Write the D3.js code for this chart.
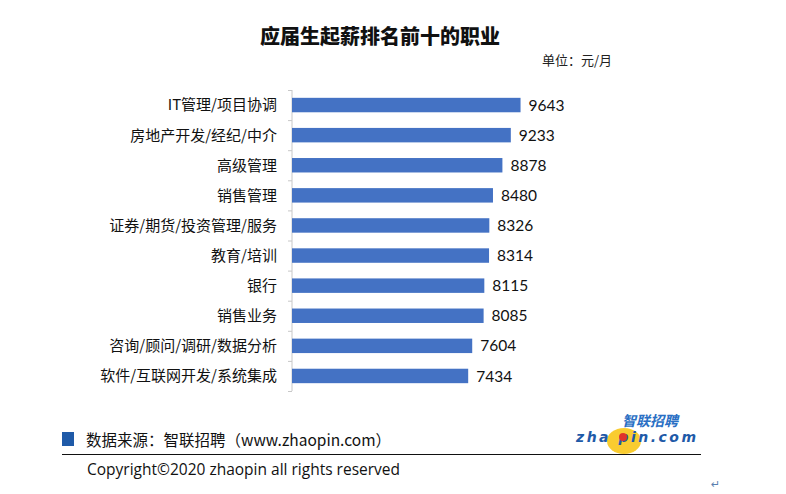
<!DOCTYPE html>
<html><head><meta charset="utf-8">
<script src="https://cdn.jsdelivr.net/npm/d3@7"></script>
<style>body{margin:0;background:#fff}svg{display:block}</style>
</head><body>
<svg id="c" width="786" height="494"></svg>
<script>
const categories = ["IT管理/项目协调","房地产开发/经纪/中介","高级管理","销售管理","证券/期货/投资管理/服务","教育/培训","银行","销售业务","咨询/顾问/调研/数据分析","软件/互联网开发/系统集成"];
const values = [9643,9233,8878,8480,8326,8314,8115,8085,7604,7434];
const title = "应届生起薪排名前十的职业";
const unit = "单位：元/月";
const source = "数据来源：智联招聘（www.zhaopin.com）";
const copyright = "Copyright©2020 zhaopin all rights reserved";

const svg = d3.select("#c");
const cjk = "'Noto Sans CJK SC','Noto Sans',sans-serif";
const x = d3.scaleLinear().domain([0, 10000]).range([292, 529]);
const y = d3.scaleBand().domain(categories).range([90, 391]).paddingInner(0.52).paddingOuter(0.26);

svg.append("text").attr("x", 380).attr("y", 44).attr("text-anchor","middle")
  .attr("font-family", cjk).attr("font-weight", 900).attr("font-size", 20).attr("fill","#111").text(title);
svg.append("text").attr("x", 612).attr("y", 65).attr("text-anchor","end")
  .attr("font-family", cjk).attr("font-size", 13).attr("fill","#222").text(unit);

// axis
const ax = svg.append("g").attr("transform","translate(292,0)")
  .call(d3.axisLeft(d3.scaleLinear().domain([0,10]).range([90,391])).ticks(10).tickSize(4).tickFormat(""));
ax.select(".domain").attr("stroke","#c8c8c8").attr("d","M0,90V391");
ax.selectAll(".tick line").attr("stroke","#c8c8c8");

svg.append("g").selectAll("rect").data(values).join("rect")
  .attr("x", x(0)).attr("y", (d,i)=>y(categories[i]))
  .attr("width", d=>x(d)-x(0)).attr("height", y.bandwidth())
  .attr("fill","#4472C4");

svg.append("g").selectAll("text").data(values).join("text")
  .attr("x", d=>x(d)+8).attr("y",(d,i)=>y(categories[i])+y.bandwidth()/2)
  .attr("dy","0.36em").attr("font-family","Lato,'Noto Sans',sans-serif").attr("font-size",15.5)
  .attr("fill","#111").text(d=>d);

svg.append("g").selectAll("text").data(categories).join("text")
  .attr("x", 277).attr("y", d=>y(d)+y.bandwidth()/2).attr("dy","0.36em")
  .attr("text-anchor","end").attr("font-family", cjk).attr("font-size",15).attr("fill","#111").text(d=>d);

// footer
svg.append("rect").attr("x",62).attr("y",432).attr("width",12).attr("height",14).attr("fill","#1f5aa8");
svg.append("text").attr("x",86).attr("y",446).attr("font-family",cjk).attr("font-size",15.5).attr("fill","#111").text(source);
svg.append("line").attr("x1",62).attr("x2",701).attr("y1",454.5).attr("y2",454.5).attr("stroke","#111").attr("stroke-width",1.2);
svg.append("text").attr("x",87).attr("y",475).attr("font-family","'Open Sans','Noto Sans',sans-serif").attr("font-size",15.5).attr("fill","#111").text(copyright);

// logo
const lg = svg.append("g");
lg.append("ellipse").attr("cx",624).attr("cy",441).attr("rx",17).attr("ry",13).attr("fill","#f8c61a").attr("opacity",0.9);
lg.append("text").attr("x",622).attr("y",426).attr("font-family",cjk).attr("font-style","italic").attr("font-weight",700)
  .attr("font-size",14).attr("fill","#2a6fc4").text("智联招聘");
lg.append("text").attr("x",576).attr("y",442).attr("font-family","'DejaVu Sans',sans-serif").attr("font-style","italic").attr("font-weight",700)
  .attr("font-size",14).attr("fill","#1f5aa8").attr("textLength",120).text("zha pin.com");
lg.append("circle").attr("cx",623).attr("cy",437).attr("r",4).attr("fill","#e0352b");
svg.append("text").attr("x",711).attr("y",488).attr("font-family","'DejaVu Sans',sans-serif").attr("font-size",11).attr("fill","#5a7fb0").text("↵");
</script>
</body></html>
